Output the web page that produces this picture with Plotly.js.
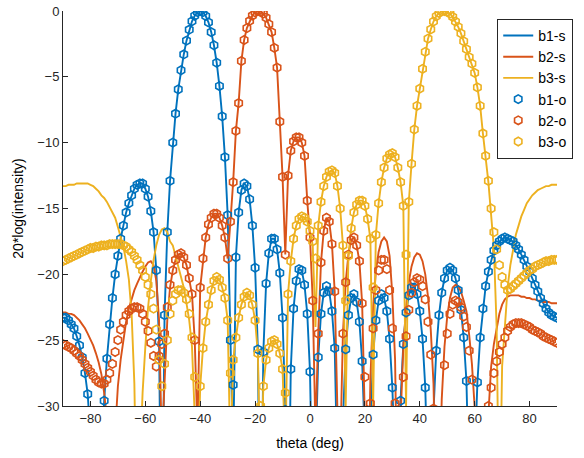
<!DOCTYPE html>
<html>
<head>
<meta charset="utf-8">
<script src="https://cdn.plot.ly/plotly-3.0.1.min.js"></script>
<style>html,body{margin:0;padding:0;background:#fff;}#plot{width:584px;height:458px;}</style>
</head>
<body>
<div id="plot"></div>
<script>
// angle grid (deg)
const theta = [
-90,-89,-88,-87,-86,-85,-84,-83,-82,-81,
-80,-79,-78,-77,-76,-75,-74,-73,-72,-71,
-70,-69,-68,-67,-66,-65,-64,-63,-62,-61,
-60,-59,-58,-57,-56,-55,-54,-53,-52,-51,
-50,-49,-48,-47,-46,-45,-44,-43,-42,-41,
-40,-39,-38,-37,-36,-35,-34,-33,-32,-31,
-30,-29,-28,-27,-26,-25,-24,-23,-22,-21,
-20,-19,-18,-17,-16,-15,-14,-13,-12,-11,
-10,-9,-8,-7,-6,-5,-4,-3,-2,-1,
0,1,2,3,4,5,6,7,8,9,
10,11,12,13,14,15,16,17,18,19,
20,21,22,23,24,25,26,27,28,29,
30,31,32,33,34,35,36,37,38,39,
40,41,42,43,44,45,46,47,48,49,
50,51,52,53,54,55,56,57,58,59,
60,61,62,63,64,65,66,67,68,69,
70,71,72,73,74,75,76,77,78,79,
80,81,82,83,84,85,86,87,88,89,
90];

// b1 (blue)
const b1s = [
-23.3,-23.3,-23.5,-23.8,-24.1,-24.7,-25.4,-26.3,-27.5,-29.1,
-31.6,-35.5,-44,-45,-34.6,-29.6,-26.4,-23.8,-21.8,-20.0,
-18.6,-17.3,-16.3,-15.3,-14.6,-14.0,-13.5,-13.2,-13.1,-13.1,
-13.5,-14.1,-15.2,-16.8,-19.7,-25.1,-45,-23.1,-16.8,-12.9,
-10.0,-7.8,-5.95,-4.5,-3.3,-2.25,-1.42,-0.78,-0.36,-0.09,
0,-0.09,-0.38,-0.86,-1.6,-2.6,-3.93,-5.7,-8.0,-11.1,
-15.5,-25,-34,-18.7,-15.3,-13.6,-13.1,-13.3,-14.3,-16.3,
-19.5,-25.7,-45,-25.9,-20.7,-18.4,-17.3,-17.3,-18.1,-19.9,
-23.3,-30.3,-42,-27.2,-22.6,-20.5,-19.6,-19.7,-20.8,-23.0,
-27.4,-38.8,-34.1,-26.3,-23.0,-21.4,-20.9,-21.3,-22.8,-25.6,
-31.3,-45,-31.2,-25.7,-23.1,-21.8,-21.5,-22.1,-23.6,-26.6,
-32.6,-45,-31.4,-26.1,-23.5,-22.0,-21.5,-21.8,-22.8,-24.9,
-28.6,-36.9,-40,-29.6,-25.3,-22.9,-21.6,-21.0,-21.0,-21.5,
-22.8,-24.9,-28.6,-36.3,-42.3,-30.4,-25.8,-23.1,-21.4,-20.3,
-19.7,-19.5,-19.7,-20.3,-21.2,-22.7,-24.8,-28.1,-34,-45,
-34,-28.2,-24.8,-22.6,-20.9,-19.8,-18.9,-18.2,-17.8,-17.5,
-17.3,-17.2,-17.3,-17.4,-17.5,-17.8,-18.1,-18.5,-18.9,-19.4,
-19.8,-20.3,-20.8,-21.3,-21.8,-22.2,-22.6,-22.9,-23.1,-23.2,
-23.3];
const b1o = [
-23.3,-23.3,-23.5,-23.8,-24.1,-24.7,-25.4,-26.3,-27.5,-29.1,
-31.6,-35.5,-44,-45,-34.6,-29.6,-26.4,-23.8,-21.8,-20.0,
-18.6,-17.3,-16.3,-15.3,-14.6,-14.0,-13.5,-13.2,-13.1,-13.1,
-13.5,-14.1,-15.2,-16.8,-19.7,-25.1,-45,-23.1,-16.8,-12.9,
-10.0,-7.8,-5.95,-4.5,-3.3,-2.25,-1.42,-0.78,-0.36,-0.09,
0,-0.09,-0.38,-0.86,-1.6,-2.6,-3.93,-5.7,-8.0,-11.1,
-15.5,-25,-28.4,-18.7,-15.3,-13.6,-13.1,-13.3,-14.3,-16.3,
-19.5,-25.7,-45,-25.9,-20.7,-18.4,-17.3,-17.3,-18.1,-19.9,
-23.3,-30.3,-42,-27.2,-22.6,-20.5,-19.6,-19.7,-20.8,-23.0,
-27.4,-38.8,-34.1,-26.3,-23.0,-21.4,-20.9,-21.3,-22.8,-25.6,
-31.3,-45,-31.2,-25.7,-23.1,-21.8,-21.5,-22.1,-23.6,-26.6,
-32.6,-45,-31.4,-26.1,-23.5,-22.0,-21.5,-21.8,-22.8,-24.9,
-28.6,-36.9,-40,-29.6,-25.3,-22.9,-21.6,-21.0,-21.0,-21.5,
-22.8,-24.9,-28.6,-36.3,-42.3,-30.4,-25.8,-23.1,-21.4,-20.3,
-19.7,-19.5,-19.7,-20.3,-21.2,-22.7,-24.8,-28.1,-34,-45,
-34,-28.2,-24.8,-22.6,-20.9,-19.8,-18.9,-18.2,-17.8,-17.5,
-17.3,-17.2,-17.3,-17.4,-17.5,-17.8,-18.1,-18.5,-18.9,-19.4,
-19.8,-20.3,-20.8,-21.3,-21.8,-22.2,-22.6,-22.9,-23.1,-23.2,
-23.3];

// b2 (orange)
const b2s = [
-22.9,-22.9,-23.0,-23.0,-23.1,-23.3,-23.5,-23.8,-24.1,-24.5,
-24.9,-25.4,-26.0,-26.7,-27.6,-29.0,-31,-35,-38,-32,
-28.5,-26.5,-25.0,-23.6,-22.6,-21.8,-21.2,-20.7,-20.2,-19.8,
-19.4,-19.1,-19.0,-19.3,-20.5,-23.5,-33,-28,-23.5,-21.0,
-19.7,-18.9,-18.5,-18.4,-18.7,-19.3,-20.3,-21.5,-25.0,-32,
-21.0,-18.8,-17.2,-16.2,-15.7,-15.4,-15.4,-15.7,-16.3,-17.2,
-18.8,-16.0,-13.0,-9.1,-7.0,-3.8,-2.2,-1.3,-0.75,-0.35,
-0.1,0,-0.03,-0.2,-0.5,-1.0,-1.6,-2.8,-4.3,-8.4,
-12.6,-18.5,-12.5,-10.6,-9.9,-9.6,-9.6,-10.0,-11.0,-14.4,
-17.2,-22.0,-32,-24.5,-19.1,-16.7,-15.7,-16.0,-17.7,-21.3,
-30.4,-33.7,-24.5,-20.6,-18.5,-17.4,-17.2,-17.8,-19.0,-22.2,
-27.8,-40,-28,-22.5,-19.8,-18.3,-17.5,-17.2,-17.5,-18.6,
-21.5,-26.5,-40,-31,-25.5,-22.5,-20.6,-19.4,-18.7,-18.4,
-18.5,-19.0,-20.0,-21.7,-24.2,-28.3,-38,-38,-29.5,-25.5,
-23.2,-21.8,-21.0,-20.8,-20.9,-21.3,-22.0,-22.8,-24.6,-26.8,
-30.1,-35.4,-40,-38,-34,-30,-27,-25.3,-24,-23,
-22.3,-21.9,-21.7,-21.6,-21.6,-21.6,-21.6,-21.7,-21.7,-21.8,
-21.8,-21.9,-21.9,-22.0,-22.0,-22.1,-22.1,-22.1,-22.2,-22.2,
-22.2];
const b2o = [
-25.3,-25.4,-25.5,-25.6,-25.8,-26.0,-26.2,-26.5,-26.8,-27.1,
-27.4,-27.7,-28.0,-28.2,-28.3,-28.3,-28.0,-27.5,-26.8,-25.9,
-25.0,-24.2,-23.6,-23.1,-22.8,-22.6,-22.5,-22.5,-22.6,-23.0,
-23.6,-24.3,-25.2,-26.2,-27.0,-26.2,-25.3,-24.5,-22.5,-20.8,
-19.7,-18.9,-18.5,-18.4,-18.7,-19.3,-20.3,-21.5,-25.0,-32,
-21.0,-18.8,-17.2,-16.2,-15.7,-15.4,-15.4,-15.7,-16.3,-17.2,
-18.8,-16.0,-13.0,-9.1,-7.0,-3.8,-2.2,-1.3,-0.75,-0.35,
-0.1,0,-0.03,-0.2,-0.5,-1.0,-1.6,-2.8,-4.3,-8.4,
-12.6,-18.5,-12.5,-10.6,-9.9,-9.6,-9.6,-10.0,-11.0,-14.4,
-17.2,-22.0,-32,-24.5,-19.1,-16.7,-15.7,-16.0,-17.7,-21.3,
-30.4,-33.7,-24.5,-20.6,-18.5,-17.4,-17.2,-17.8,-19.0,-22.2,
-27.8,-40,-29.8,-24.1,-21.2,-19.7,-18.9,-18.9,-19.6,-21.2,
-24.1,-29.8,-40,-33.6,-27.8,-24.7,-22.7,-21.4,-20.6,-20.3,
-20.4,-20.9,-21.9,-23.6,-26.1,-30.2,-39.8,-40,-31.0,-26.9,
-24.5,-23.0,-22.3,-22.0,-22.1,-22.5,-23.2,-24.0,-25.8,-28.0,
-31.3,-36.6,-40,-36,-32,-30,-28.6,-27.5,-26.6,-25.9,
-25.3,-24.8,-24.3,-24.0,-23.8,-23.7,-23.7,-23.7,-23.8,-23.9,
-24.0,-24.2,-24.3,-24.4,-24.5,-24.7,-24.8,-24.9,-25.0,-25.1,
-25.2];

// b3 (yellow)
const b3s = [
-13.3,-13.3,-13.2,-13.2,-13.2,-13.1,-13.1,-13.1,-13.1,-13.1,
-13.2,-13.3,-13.5,-13.7,-14.0,-14.2,-14.5,-14.9,-15.3,-15.7,
-16.4,-17.1,-17.9,-19.0,-20.4,-23.0,-28.3,-40,-35,-29,
-25.5,-22.5,-20.5,-18.9,-17.8,-17.0,-16.6,-16.5,-16.8,-17.5,
-17.8,-18.6,-19.3,-20.0,-21.0,-22.2,-23.5,-25.5,-30,-36,
-28.5,-25.6,-23.6,-22.3,-21.2,-20.5,-20.2,-20.4,-21.0,-21.8,
-23.5,-34,-26.5,-24.8,-23.3,-22.3,-21.7,-21.4,-21.6,-22.3,
-23.5,-26.0,-36,-28.5,-26.5,-25.6,-25.1,-25.0,-25.3,-26.0,
-27.2,-34,-21.5,-19.0,-17.3,-16.3,-15.8,-15.6,-15.7,-16.0,
-16.7,-17.8,-24,-16.3,-14.5,-13.3,-12.6,-12.2,-12.1,-12.3,
-13.3,-15.0,-17.8,-30,-18.6,-16.5,-15.3,-14.7,-14.4,-14.4,
-14.8,-15.8,-17.3,-30,-17.0,-14.6,-13.0,-11.9,-11.2,-10.9,
-10.8,-11.1,-11.9,-13.0,-14.8,-30,-14.5,-11.6,-9.0,-7.2,
-5.9,-4.4,-3.1,-2.1,-1.4,-0.8,-0.4,-0.15,-0.02,0,
-0.05,-0.2,-0.45,-0.8,-1.2,-1.7,-2.3,-2.9,-3.5,-4.0,
-4.7,-5.8,-7.2,-9.3,-11.0,-13.0,-15.5,-18.0,-24,-40,
-27,-24,-21.0,-19.3,-18.0,-17.0,-16.3,-15.6,-15.1,-14.6,
-14.3,-14.0,-13.8,-13.6,-13.5,-13.4,-13.3,-13.3,-13.2,-13.2,
-13.2];
const b3o = [
-19.0,-18.9,-18.8,-18.7,-18.6,-18.5,-18.4,-18.3,-18.2,-18.1,
-18.0,-18.0,-17.9,-17.9,-17.8,-17.8,-17.8,-17.7,-17.7,-17.7,
-17.7,-17.7,-17.8,-17.9,-18.1,-18.3,-18.6,-18.9,-19.3,-19.7,
-20.2,-20.8,-21.5,-22.6,-24.2,-26.5,-28.5,-26.8,-25.0,-23.0,
-22.0,-21.5,-21.2,-21.2,-21.4,-21.9,-23.0,-24.8,-27.8,-31,
-28.5,-25.6,-23.6,-22.3,-21.2,-20.5,-20.2,-20.4,-21.0,-21.8,
-23.5,-27.5,-26.5,-24.8,-23.3,-22.3,-21.7,-21.4,-21.6,-22.3,
-23.5,-26.0,-30.0,-28.5,-26.5,-25.6,-25.1,-25.0,-25.3,-26.0,
-27.2,-29.0,-21.5,-19.0,-17.3,-16.3,-15.8,-15.6,-15.7,-16.0,
-16.7,-17.5,-18.8,-16.3,-14.5,-13.3,-12.6,-12.2,-12.1,-12.3,
-13.3,-15.0,-17.8,-22.0,-18.6,-16.5,-15.3,-14.7,-14.4,-14.4,
-14.8,-15.8,-17.3,-21.0,-17.0,-14.6,-13.0,-11.9,-11.2,-10.9,
-10.8,-11.1,-11.9,-13.0,-14.8,-18.5,-14.5,-11.6,-9.0,-7.2,
-5.9,-4.4,-3.1,-2.1,-1.4,-0.8,-0.4,-0.15,-0.02,0,
-0.05,-0.2,-0.45,-0.8,-1.2,-1.7,-2.3,-2.9,-3.5,-4.0,
-4.7,-5.8,-7.2,-9.3,-11.0,-12.9,-15.0,-16.8,-18.1,-19.3,
-20.2,-20.8,-21.2,-21.1,-20.9,-20.7,-20.5,-20.3,-20.1,-19.9,
-19.7,-19.6,-19.4,-19.3,-19.2,-19.1,-19.0,-19.0,-18.9,-18.9,
-18.9];

const names = ['b1-s','b2-s','b3-s','b1-o','b2-o','b3-o'];
const xTicks = [-80,-60,-40,-20,0,20,40,60,80];
const yTicks = [-30,-25,-20,-15,-10,-5,0];

const colors = ['#0072BD','#D95319','#EDB120'];
const sData = [b1s,b2s,b3s];
const oData = [b1o,b2o,b3o];
const traces = [];
for (let i=0;i<3;i++){
  traces.push({x:theta,y:sData[i],type:'scatter',mode:'lines',name:names[i],
    line:{color:colors[i],width:1.9}});
}
for (let i=0;i<3;i++){
  traces.push({x:theta,y:oData[i],type:'scatter',mode:'markers',name:names[3+i],
    marker:{symbol:'hexagon-open',size:8.5,color:colors[i],line:{width:1.6,color:colors[i]}}});
}
const fontFam = 'Liberation Sans, Arial, Helvetica, sans-serif';
const layout = {
  width:584,height:458,
  margin:{l:63,r:24,t:11,b:52},
  paper_bgcolor:'#fff',plot_bgcolor:'#fff',
  font:{family:fontFam,size:13,color:'#262626'},
  showlegend:true,
  legend:{x:0.879,y:0.98,xanchor:'left',yanchor:'top',bgcolor:'#fff',
    bordercolor:'#262626',borderwidth:1,font:{size:14,color:'#000'},
    tracegroupgap:0},
  xaxis:{range:[-90,90],tickvals:xTicks,ticks:'inside',ticklen:5,tickcolor:'#262626',
    showline:true,linecolor:'#262626',linewidth:1,showgrid:false,zeroline:false,mirror:false,
    tickfont:{size:13,color:'#262626'},
    title:{text:'theta (deg)',font:{size:14,color:'#000'},standoff:13}},
  yaxis:{range:[-30,0],tickvals:yTicks,ticks:'inside',ticklen:5,tickcolor:'#262626',
    showline:true,linecolor:'#262626',linewidth:1,showgrid:false,zeroline:false,mirror:false,
    tickfont:{size:13,color:'#262626'},
    title:{text:'20*log(intensity)',font:{size:14,color:'#000'},standoff:10}}
};
Plotly.newPlot('plot',traces,layout,{displayModeBar:false,staticPlot:true});
</script>
</body>
</html>
